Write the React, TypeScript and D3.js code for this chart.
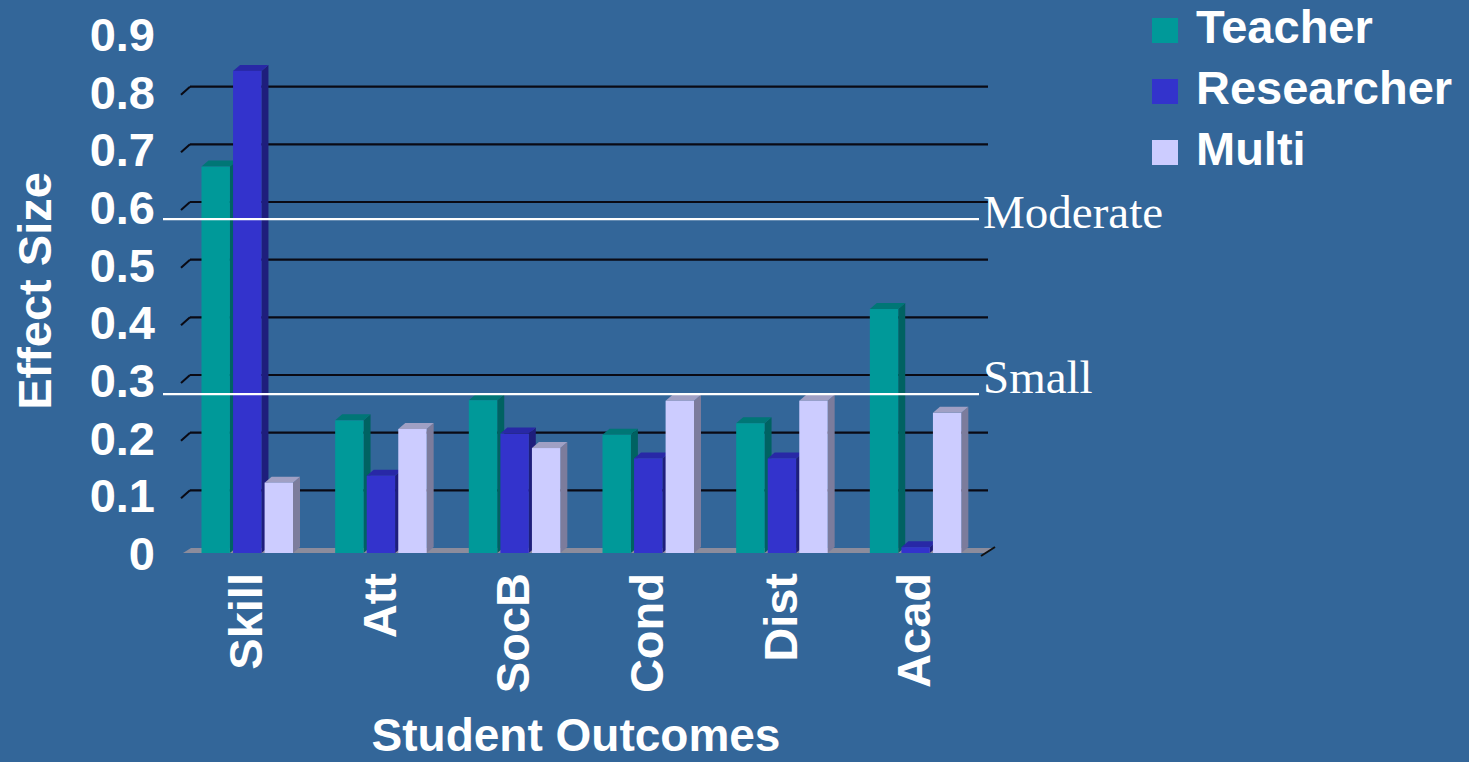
import React from 'react';
import * as d3 from 'd3';

const categories = ['Skill', 'Att', 'SocB', 'Cond', 'Dist', 'Acad'];
const seriesNames = ['Teacher', 'Researcher', 'Multi'];
const teacher = [0.67, 0.23, 0.265, 0.205, 0.225, 0.423];
const researcher = [0.836, 0.134, 0.207, 0.164, 0.164, 0.01];
const multi = [0.122, 0.215, 0.182, 0.264, 0.264, 0.243];
const tickValues = [0, 0.1, 0.2, 0.3, 0.4, 0.5, 0.6, 0.7, 0.8, 0.9];
const tickLabels = ['0', '0.1', '0.2', '0.3', '0.4', '0.5', '0.6', '0.7', '0.8', '0.9'];
const gridValues = [0.1, 0.2, 0.3, 0.4, 0.5, 0.6, 0.7, 0.8];
const thresholdLabels = ['Moderate', 'Small'];
const thresholdValues = [0.579, 0.2755];
const yTitle = 'Effect Size';
const xTitle = 'Student Outcomes';

const W = 1469;
const H = 762;
const DX = 7;
const DY = -6;
const GDX = 8;
const GDY = -5;

const seriesValues = [teacher, researcher, multi];
const fronts = ['#009999', '#3333CC', '#CCCCFF'];
const tops = ['#007676', '#2828A6', '#A0A0C4'];
const sides = ['#006262', '#1E1E7C', '#7C7C9C'];

const sans = '"Liberation Sans", Arial, sans-serif';
const serif = '"Liberation Serif", "Times New Roman", serif';

export default function App() {
  const y = d3.scaleLinear().domain([0, 0.9]).range([553, 553 - 0.9 * 576.7]);
  const x0 = d3.scaleBand<string>().domain(categories).range([183, 985]);
  const x1 = d3.scaleBand<string>().domain(seriesNames).range([18.5, 110]).paddingInner(0.1);
  const bw = x1.bandwidth();
  const base = y(0);
  const xL = x0.range()[0];
  const xR = x0.range()[1];

  const bars: React.ReactNode[] = [];
  categories.forEach((c, ci) => {
    seriesNames.forEach((s, si) => {
      const v = seriesValues[si][ci];
      const x = (x0(c) as number) + (x1(s) as number);
      const yt = y(v);
      const top = `M${x},${yt} L${x + DX},${yt + DY} L${x + bw + DX},${yt + DY} L${x + bw},${yt} Z`;
      const side = `M${x + bw},${yt} L${x + bw + DX},${yt + DY} L${x + bw + DX},${base + DY} L${x + bw},${base} Z`;
      bars.push(
        <g key={`${c}-${s}`}>
          <path d={side} fill={sides[si]} />
          <path d={top} fill={tops[si]} />
          <rect x={x} y={yt} width={bw} height={base - yt} fill={fronts[si]} />
        </g>
      );
    });
  });

  return (
    <div style={{ position: 'fixed', left: 0, top: 0, width: W, height: H }}>
      <svg width={W} height={H} style={{ display: 'block' }}>
        <rect x={0} y={0} width={W} height={H} fill="#336699" />
        {/* floor */}
        <path
          d={`M${xL},${base} L${xR},${base} L${xR + GDX},${base + GDY} L${xL + GDX},${base + GDY} Z`}
          fill="#8C8C9C"
        />
        <line x1={xR - 4} y1={base + 3} x2={xR + GDX + 2} y2={base + GDY - 1} stroke="#111" strokeWidth={2} />
        {/* gridlines */}
        {gridValues.map((v) => (
          <g key={`g${v}`}>
            <line x1={xL + GDX - 1} x2={xR + 3} y1={y(v) + GDY} y2={y(v) + GDY} stroke="#0a0a14" strokeWidth={2.2} />
            <line x1={xL - 2} y1={y(v) + 3} x2={xL + GDX - 1} y2={y(v) + GDY} stroke="#0a0a14" strokeWidth={2} />
          </g>
        ))}
        {bars}
        {/* threshold lines */}
        {thresholdValues.map((v, i) => (
          <g key={`t${i}`}>
            <line x1={163} x2={979} y1={y(v)} y2={y(v)} stroke="#ffffff" strokeWidth={2.2} />
            <text
              x={983}
              y={i === 0 ? y(v) + 9 : y(v) - 1}
              fill="#ffffff"
              fontFamily={serif}
              fontSize={47}
            >
              {thresholdLabels[i]}
            </text>
          </g>
        ))}
        {/* y tick labels */}
        {tickValues.map((v, i) => (
          <text
            key={`yl${i}`}
            x={155}
            y={y(v) + 17}
            textAnchor="end"
            fill="#ffffff"
            fontFamily={sans}
            fontWeight="bold"
            fontSize={47}
          >
            {tickLabels[i]}
          </text>
        ))}
        {/* y title */}
        <text
          transform={`translate(51,291) rotate(-90)`}
          textAnchor="middle"
          fill="#ffffff"
          fontFamily={sans}
          fontWeight="bold"
          fontSize={47}
        >
          {yTitle}
        </text>
        {/* category labels */}
        {categories.map((c) => (
          <text
            key={`c${c}`}
            transform={`translate(${(x0(c) as number) + 79},573) rotate(-90)`}
            textAnchor="end"
            fill="#ffffff"
            fontFamily={sans}
            fontWeight="bold"
            fontSize={47}
          >
            {c}
          </text>
        ))}
        {/* x title */}
        <text x={576} y={751} textAnchor="middle" fill="#ffffff" fontFamily={sans} fontWeight="bold" fontSize={46}>
          {xTitle}
        </text>
        {/* legend */}
        {seriesNames.map((s, i) => (
          <g key={`lg${s}`} transform={`translate(0,${i * 61})`}>
            <rect x={1152} y={18} width={26} height={25} fill={fronts[i]} />
            <text x={1196} y={43} fill="#ffffff" fontFamily={sans} fontWeight="bold" fontSize={47}>
              {s}
            </text>
          </g>
        ))}
      </svg>
    </div>
  );
}
